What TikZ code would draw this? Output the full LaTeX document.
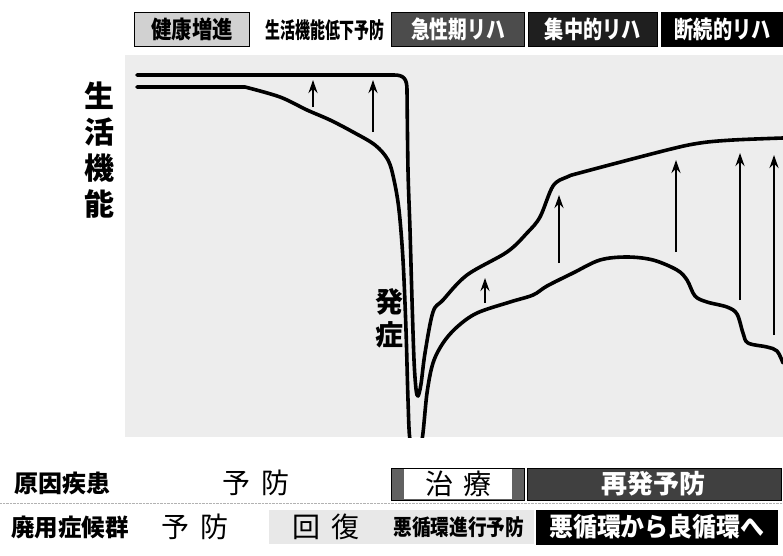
\documentclass[tikz,border=0pt]{standalone}
\usepackage{fontspec}
\newfontfamily\jp{Noto Sans CJK JP}
\usetikzlibrary{arrows.meta,positioning}

\newcommand{\narrow}[2]{\scalebox{#1}[1]{#2}}

\tikzset{
	curve/.style={line width=3.6pt, line join=round, line cap=round},
	uparrow/.style={line width=2.2pt, -{Stealth[length=13pt,width=9pt]}},
	hdrbox/.style={draw=black, line width=0.8pt, minimum height=34pt, inner sep=0pt,
		text=white, font=\jp\bfseries\fontsize{24}{24}\selectfont},
	rowlabel/.style={inner sep=0pt, font=\jp\bfseries\fontsize{24}{24}\selectfont},
	plain/.style={inner sep=0pt, font=\jp\fontsize{28}{28}\selectfont},
	darkbox/.style={draw=black, fill=black!75, minimum height=32pt, inner sep=0pt,
		text=white, font=\jp\bfseries\fontsize{26}{26}\selectfont},
}

\begin{document}
\begin{tikzpicture}[x=1pt, y=-1pt]
	\useasboundingbox (0,0) rectangle (783,555);
	\fill[white] (0,0) rectangle (783,555);

	% plot area
	\fill[black!7] (125,55) rectangle (783,437);
	\draw[black!30, densely dotted] (0,503) -- (783,503);

	% header
	\node[hdrbox, fill=black!18, text=black, minimum width=115pt] (kenko) at (192,29) {\narrow{0.85}{健康増進}};
	\node[inner sep=0pt, font=\jp\bfseries\fontsize{22}{22}\selectfont] (teika) at (325,30) {\narrow{0.68}{生活機能低下予防}};
	\node[hdrbox, fill=black!70, minimum width=133pt] (kyusei) at (458,29) {\narrow{0.78}{急性期リハ}};
	\node[hdrbox, fill=black!88, minimum width=129pt, right=3pt of kyusei] (shuchu) {\narrow{0.8}{集中的リハ}};
	\node[hdrbox, fill=black, minimum width=123pt, right=3pt of shuchu] (danzoku) {\narrow{0.8}{断続的リハ}};

	% axis label
	\node[inner sep=0pt, align=center, font=\jp\bfseries\fontsize{30}{36}\selectfont] (kino) at (99,150) {生\\活\\機\\能};
	\node[inner sep=0pt, align=center, font=\jp\bfseries\fontsize{28}{33}\selectfont] (hassho) at (389,318) {発\\症};

	% curves
	\begin{scope}
		\clip (125,55) rectangle (783,437);
		\draw[curve] (137,75) -- (394,75) .. controls (404,75) and (407,79) .. (407,90)
			-- plot[smooth, tension=0.55] coordinates {(407,90) (408,170) (410,230) (412,300)
				(414,360) (416,389) (418,396) (421,384) (425,353) (433,312) (443,300) (467,275)
				(507,252) (527,233) (540,217) (553,186) (567,177) (583,172) (667,150) (700,143)
				(733,140) (783,138)};
		\draw[curve] (137,87) -- (245,87)
			-- plot[smooth, tension=0.55] coordinates {(245,87) (280,97) (307,110) (330,120)
				(353,132) (375,145) (388,160) (394,180) (399,210) (403,260) (406,330) (408,400)
				(410,440) (416,452) (422,440) (427,393) (433,363) (443,343) (457,327) (477,313)
				(510,302) (533,295) (547,286) (573,273) (600,260) (627,257) (653,260) (677,270)
				(687,280) (695,296) (707,302) (727,307) (737,314) (743,333) (748,343) (767,347)
				(777,351) (783,363)};
	\end{scope}

	% arrows
	\foreach \x/\ya/\yb in {313/107/80, 373/132/80, 485/303/278, 559/263/195,
		676/252/160, 740/300/153, 774/335/155}
		\draw[uparrow] (\x,\ya) -- (\x,\yb);

	% row 1
	\node[rowlabel] (genin) at (62,483) {原因疾患};
	\node[plain] (yobo1) at (256,483) {予\hspace{12pt}防};
	\node[draw=black, fill=black!62, minimum width=133pt, minimum height=32pt, inner sep=0pt] (chiryobox) at (458,484) {};
	\node[fill=white, minimum width=108pt, minimum height=30pt, inner sep=0pt, font=\jp\fontsize{28}{28}\selectfont] (chiryo) at (chiryobox) {治\hspace{10pt}療};
	\node[darkbox, minimum width=254pt, right=2pt of chiryobox] (saihatsu) {再発予防};

	% row 2
	\node[rowlabel] (haiyo) at (70,527) {\narrow{0.98}{廃用症候群}};
	\node[plain] (yobo2) at (195,527) {予\hspace{12pt}防};
	\node[fill=black!9, minimum width=115pt, minimum height=34pt, inner sep=0pt, font=\jp\fontsize{28}{28}\selectfont] (kaifuku) at (326,527) {回\hspace{12pt}復};
	\node[fill=black!9, minimum width=150pt, minimum height=34pt, inner sep=0pt, font=\jp\bfseries\fontsize{22}{22}\selectfont, right=0pt of kaifuku] (shinko) {\narrow{0.85}{悪循環進行予防}};
	\node[darkbox, fill=black, minimum width=241pt, minimum height=34pt, right=2pt of shinko] (ryojunkan) {\narrow{0.92}{悪循環から良循環へ}};
\end{tikzpicture}
\end{document}
